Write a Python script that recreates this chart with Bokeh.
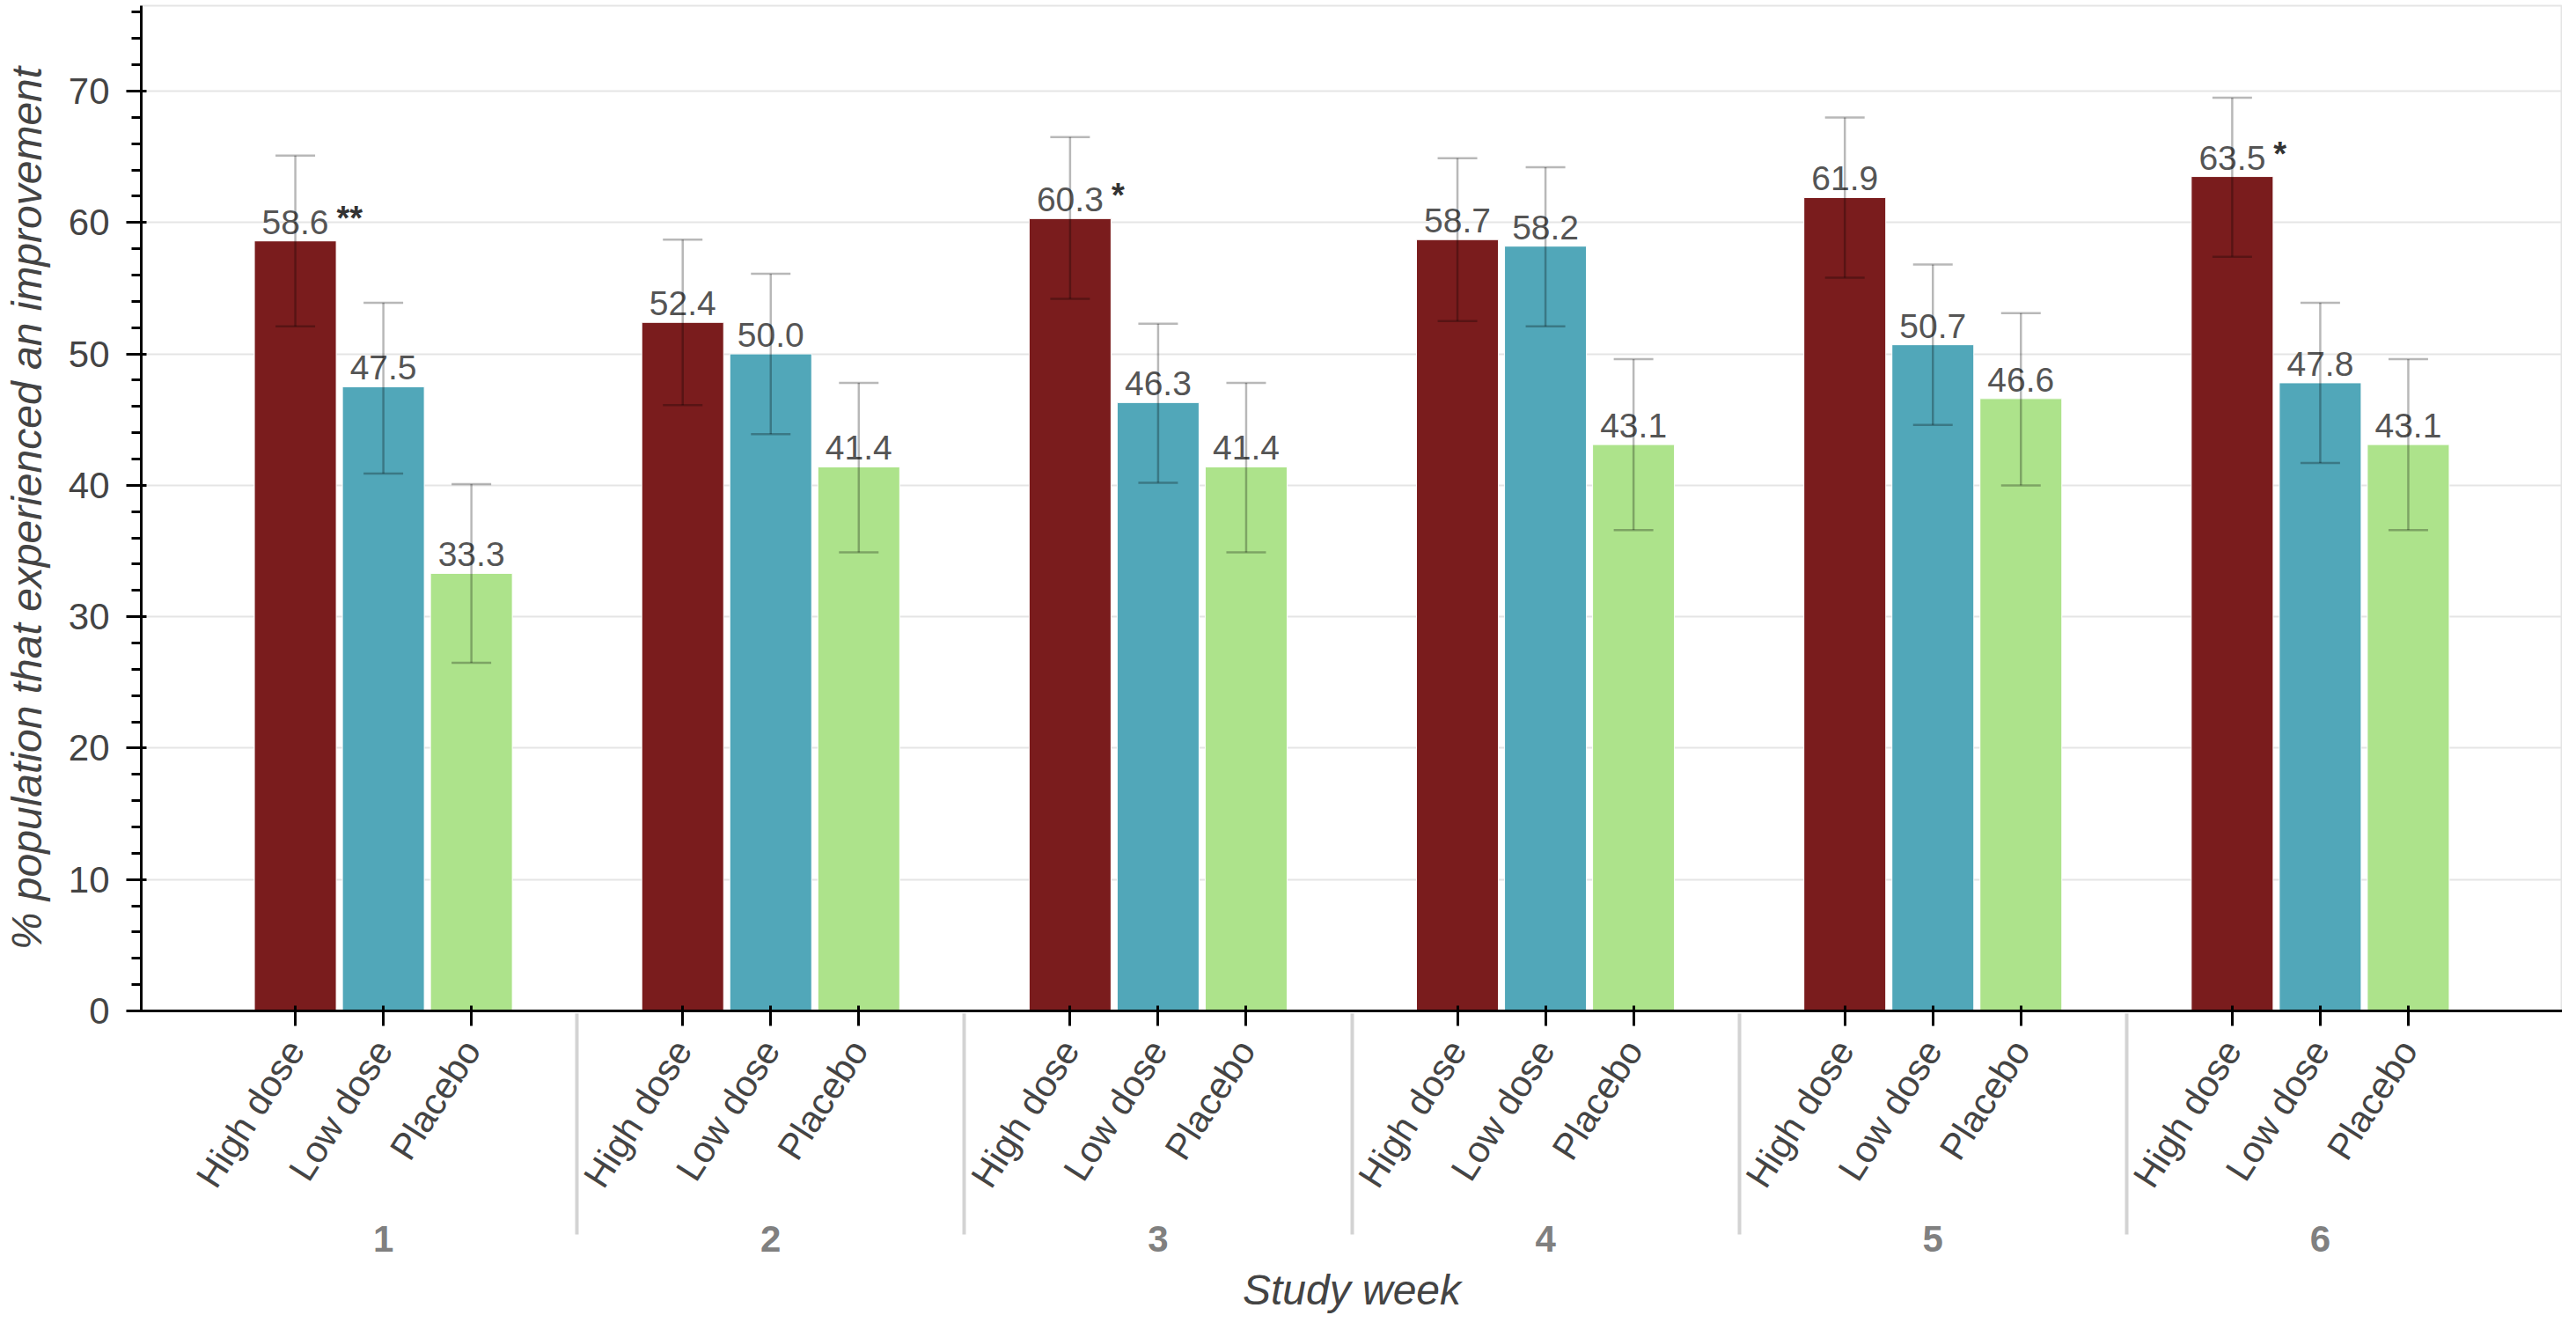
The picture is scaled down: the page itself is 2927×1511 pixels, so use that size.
from bokeh.plotting import figure
from bokeh.models import ColumnDataSource, FactorRange, Whisker, TeeHead, Range1d
from bokeh.transform import factor_cmap
from bokeh.core.properties import value
from bokeh.embed import file_html
from bokeh.resources import INLINE

weeks = ["1", "2", "3", "4", "5", "6"]
doses = ["High dose", "Low dose", "Placebo"]
colors = ["#7a1c1d", "#51a7b9", "#ade38b"]

high = [58.6, 52.4, 60.3, 58.7, 61.9, 63.5]
low = [47.5, 50.0, 46.3, 58.2, 50.7, 47.8]
placebo = [33.3, 41.4, 41.4, 43.1, 46.6, 43.1]

high_lower = [52.1, 46.1, 54.2, 52.5, 55.8, 57.4]
high_upper = [65.1, 58.7, 66.5, 64.9, 68.0, 69.5]
low_lower = [40.9, 43.9, 40.2, 52.1, 44.6, 41.7]
low_upper = [53.9, 56.1, 52.3, 64.2, 56.8, 53.9]
placebo_lower = [26.5, 34.9, 34.9, 36.6, 40.0, 36.6]
placebo_upper = [40.1, 47.8, 47.8, 49.6, 53.1, 49.6]

high_stars = ["**", "", "*", "", "", "*"]

x, vals, lows, ups, labels, stars = [], [], [], [], [], []
series = [(high, high_lower, high_upper), (low, low_lower, low_upper), (placebo, placebo_lower, placebo_upper)]
for i, w in enumerate(weeks):
    for j, d in enumerate(doses):
        v, lo, up = series[j]
        x.append((w, d))
        vals.append(v[i])
        lows.append(lo[i])
        ups.append(up[i])
        labels.append(f"{v[i]:.1f}")
        stars.append(high_stars[i] if j == 0 else "")

src = ColumnDataSource(dict(x=x, value=vals, lower=lows, upper=ups, label=labels, star=stars))

FONT = "Liberation Sans"
p = figure(
    x_range=FactorRange(*x, range_padding=0.1, group_padding=1.4),
    y_range=Range1d(0, 76.5),
    width=2911, height=1495,
    output_backend="svg", toolbar_location=None,
    min_border_top=6, min_border_right=0, min_border_left=10, min_border_bottom=8,
)

p.vbar(x="x", top="value", width=0.93, source=src,
       fill_color=factor_cmap("x", colors, doses, start=1, end=2),
       line_color="white", line_width=1)

head_kw = dict(size=45, line_color="black", line_alpha=0.28, line_width=2.5)
w = Whisker(base="x", upper="upper", lower="lower", source=src, level="overlay",
            line_color="black", line_alpha=0.28, line_width=2.5,
            upper_head=TeeHead(**head_kw), lower_head=TeeHead(**head_kw))
p.add_layout(w)

p.text(x="x", y="value", text="label", source=src, text_align="center",
       text_baseline="bottom", y_offset=-8, text_font_size="39px",
       text_color="#555555", text_font=value(FONT))
p.text(x="x", y="value", text="star", source=src, text_align="left",
       text_baseline="bottom", x_offset=47, y_offset=-5, text_font_size="38px",
       text_font_style="bold", text_color="#333333", text_font=value(FONT))

p.xgrid.grid_line_color = None
p.ygrid.grid_line_color = "#e5e5e5"
p.ygrid.grid_line_width = 2
p.outline_line_color = "#e5e5e5"
p.outline_line_width = 2

for ax in (p.xaxis, p.yaxis):
    ax.axis_line_width = 3
    ax.major_tick_line_width = 3
    ax.minor_tick_line_width = 3
    ax.major_tick_out = 17
    ax.major_tick_in = 6
    ax.minor_tick_out = 11
    ax.minor_tick_in = 0
    ax.major_label_text_font_size = "42px"
    ax.major_label_text_color = "#444444"
    ax.major_label_text_font = FONT
    ax.axis_label_text_font_size = "48px"
    ax.axis_label_text_font_style = "italic"
    ax.axis_label_text_color = "#444444"
    ax.axis_label_text_font = FONT

p.yaxis.axis_label = "% population that experienced an improvement"
p.yaxis.major_label_standoff = 19
p.yaxis.axis_label_standoff = 18
p.xaxis.axis_label = "Study week"
p.xaxis.axis_label_standoff = 14
p.xaxis.major_label_orientation = 1.0
p.xaxis.group_text_font_size = "42px"
p.xaxis.group_text_font = FONT
p.xaxis.separator_line_width = 4
p.xaxis.major_label_standoff = 20

open("out.html", "w").write(file_html(p, INLINE))
